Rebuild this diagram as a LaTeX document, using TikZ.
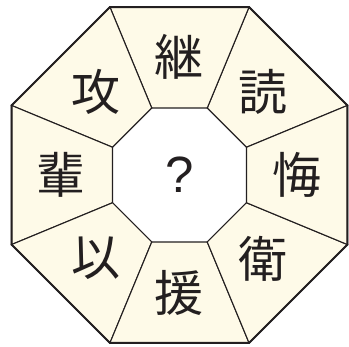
\documentclass[tikz,border=0pt]{standalone}
\usepackage{fontspec}
\setmainfont{Liberation Sans}
\newfontfamily\cjk{Noto Sans CJK JP}
\definecolor{cream}{HTML}{FEFAE8}
\definecolor{ink}{HTML}{231F20}
\tikzset{
  sector/.style={fill=cream,draw=ink,line width=1.1pt,line join=miter},
  rim/.style={draw=ink,line width=2pt,line join=miter},
  kanji/.style={font=\cjk\fontsize{49}{49}\selectfont,text=ink,inner sep=0pt},
  qmark/.style={font=\fontsize{51}{51}\selectfont,text=ink,inner sep=0pt}
}
\begin{document}
\begin{tikzpicture}[x=1pt,y=1pt]
\useasboundingbox (-179.5,-172) rectangle (169.5,175);
\def\Ro{181.8}
\def\Ri{72.5}
\foreach \k in {0,...,7}{
  \coordinate (o\k) at ({22.5+45*\k}:\Ro);
  \coordinate (i\k) at ({22.5+45*\k}:\Ri);
}
\foreach \k [evaluate=\k as \n using {int(mod(\k+1,8))}] in {0,...,7}{
  \filldraw[sector] (o\k) -- (o\n) -- (i\n) -- (i\k) -- cycle;
}
\draw[rim] (o0) -- (o1) -- (o2) -- (o3) -- (o4) -- (o5) -- (o6) -- (o7) -- cycle;
\node[qmark] (q) at (0,0) {?};
\node[kanji] (k90) at (90:118) {継};
\node[kanji] (k45) at (45:118) {読};
\node[kanji] (k0) at (0:118) {悔};
\node[kanji] (km45) at (-45:118) {衛};
\node[kanji] (km90) at (-90:118) {援};
\node[kanji] (km135) at (-135:118) {以};
\node[kanji] (k180) at (180:118) {輩};
\node[kanji] (k135) at (135:118) {攻};
\end{tikzpicture}
\end{document}
